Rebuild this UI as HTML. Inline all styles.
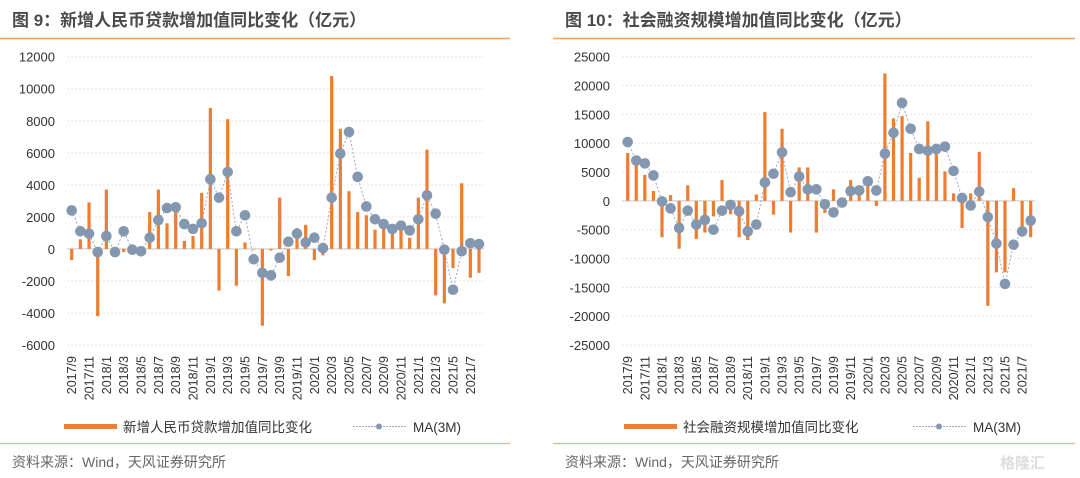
<!DOCTYPE html>
<html><head><meta charset="utf-8">
<style>
body{margin:0;background:#fff;width:1080px;height:478px;overflow:hidden;font-family:"Liberation Sans","Noto Sans CJK SC",sans-serif;}
svg{position:absolute;left:0;top:0}
</style></head>
<body>
<svg id="s" width="1080" height="478" font-family="Liberation Sans, Noto Sans CJK SC, sans-serif"></svg>
<script>
const categories=[];
for(let i=0;i<48;i++){const m=(8+i)%12+1;const y=2017+Math.floor((8+i)/12);categories.push(y+'/'+m);}
const loanBars=[-700,600,2900,-4200,3700,-100,-200,0,0,2300,3700,1600,2500,500,800,3500,8800,-2600,8100,-2300,400,0,-4800,-100,3200,-1700,1300,1500,-700,-400,10800,7500,3600,2300,2100,1200,1300,1000,1200,700,3200,6200,-2900,-3400,-1200,4100,-1800,-1500];
const loanMA=[2400,1100,950,-200,800,-200,1100,-50,-150,700,1800,2550,2600,1550,1250,1600,4350,3200,4800,1100,2100,-650,-1500,-1650,-550,450,950,400,700,50,3200,5950,7300,4500,2650,1850,1550,1250,1450,1150,1850,3350,2200,-50,-2550,-150,350,300];
const tsfBars=[8300,6500,4500,1700,-6300,1000,-8300,2700,-6600,-5500,-2700,3600,-2300,-6300,-6800,1100,15400,-2400,12500,-5500,5800,5800,-5500,-2100,2000,-100,3600,1000,2700,-900,22100,14300,14700,8300,4000,13800,9000,5100,1300,-4700,1300,8500,-18200,-12400,-12400,2200,-5500,-6300];
const tsfMA=[10200,7000,6500,4400,-100,-1300,-4700,-1700,-4100,-3300,-5000,-1700,-700,-1800,-5300,-4100,3200,4700,8400,1500,4200,2000,2000,-600,-2000,-300,1700,1800,3400,1800,8200,11800,17000,12500,9000,8700,9000,9400,5200,500,-800,1600,-2800,-7400,-14400,-7600,-5300,-3400];
const loanTicks=[12000,10000,8000,6000,4000,2000,0,-2000,-4000,-6000];
const tsfTicks=[25000,20000,15000,10000,5000,0,-5000,-10000,-15000,-20000,-25000];

const S=document.getElementById('s');const NS='http://www.w3.org/2000/svg';
function el(t,a,p){const e=document.createElementNS(NS,t);for(const k in a)e.setAttribute(k,a[k]);(p||S).appendChild(e);return e;}

function panel(o){
  const g=el('g',{});
  
  
  const t=el('text',{x:o.px+12,y:26,'font-size':17,'font-weight':'bold',fill:'#4a4a4a'},g);t.textContent=o.title;
  
  
  el('line',{x1:o.px,x2:o.px+o.pw,y1:38.5,y2:38.5,stroke:'#f7a35c','stroke-width':1.5},g);
  el('line',{x1:o.px,x2:o.px+o.pw,y1:443.5,y2:443.5,stroke:'#f9b27a','stroke-width':1.2},g);
  const f=el('text',{x:o.px+12,y:467,'font-size':14,fill:'#666'},g);f.textContent='资料来源：Wind，天风证券研究所';
  
  
  const top=56.7,bot=345,max=o.ticks[0],min=o.ticks[o.ticks.length-1];
  const yS=v=>top+(max-v)/(max-min)*(bot-top);
  const n=categories.length,step=(o.xe-o.x0)/(n-1);
  const xS=i=>o.x0+i*step;
  o.ticks.forEach(v=>{
    const l=el('line',{x1:o.gl,x2:o.gr,y1:yS(v),y2:yS(v),stroke:'#e6e6e6','stroke-dasharray':'2,2'},g);
    
    
    const tx=el('text',{x:o.gl-12,y:yS(v)+5,'font-size':13,fill:'#333','text-anchor':'end'},g);tx.textContent=v;
    
    
  });
  el('line',{x1:o.gl,x2:o.gr,y1:yS(0),y2:yS(0),stroke:'#d9d9d9','stroke-width':1.5},g);
  o.bars.forEach((v,i)=>{
    const y0=yS(0),y1=yS(v);
    const r=el('rect',{x:xS(i)-1.6,y:Math.min(y0,y1),width:3.2,height:Math.max(0.5,Math.abs(y1-y0)),fill:'#ed7d31'},g);
    
    
  });
  const pl=el('polyline',{points:o.ma.map((v,i)=>xS(i)+','+yS(v)).join(' '),fill:'none',stroke:'#9aa8c0','stroke-width':1,'stroke-dasharray':'2,2'},g);
  
  
  o.ma.forEach((v,i)=>{
    const c=el('circle',{cx:xS(i),cy:yS(v),r:5.3,fill:'#8497b0'},g);
    
    
  });
  categories.forEach((c,i)=>{
    if(i%2)return;
    const x=xS(i)+4.5;
    const t=el('text',{x:x,y:356,'font-size':12.5,fill:'#333','text-anchor':'end',transform:'rotate(-90 '+x+' 356)'},g);t.textContent=c;
    
    
  });
  const lg=el('g',{},g);
  
  
  el('rect',{x:o.lx,y:424,width:53,height:5,fill:'#ed7d31'},lg);
  const lt=el('text',{x:o.lx+59,y:432,'font-size':13.5,fill:'#333'},lg);lt.textContent=o.legend;
  el('line',{x1:o.lx+289,x2:o.lx+342,y1:426.5,y2:426.5,stroke:'#9aa8c0','stroke-dasharray':'2,1'},lg);
  el('circle',{cx:o.lx+315,cy:426.5,r:3,fill:'#8497b0'},lg);
  const mt=el('text',{x:o.lx+349,y:432,'font-size':13.5,fill:'#333'},lg);mt.textContent='MA(3M)';
}
panel({name:'loan-chart',title:'图 9：新增人民币贷款增加值同比变化（亿元）',px:0,pw:510,ticks:loanTicks,bars:loanBars,ma:loanMA,x0:71.7,xe:479,gl:67,gr:484,lx:64,legend:'新增人民币贷款增加值同比变化'});
panel({name:'tsf-chart',title:'图 10：社会融资规模增加值同比变化（亿元）',px:553,pw:522,ticks:tsfTicks,bars:tsfBars,ma:tsfMA,x0:627.7,xe:1030.7,gl:622,gr:1035,lx:624,legend:'社会融资规模增加值同比变化'});
const w=el('text',{x:1000,y:468,'font-size':15,fill:'#ddd','font-weight':'bold'});w.textContent='格隆汇';


</script>
</body></html>
